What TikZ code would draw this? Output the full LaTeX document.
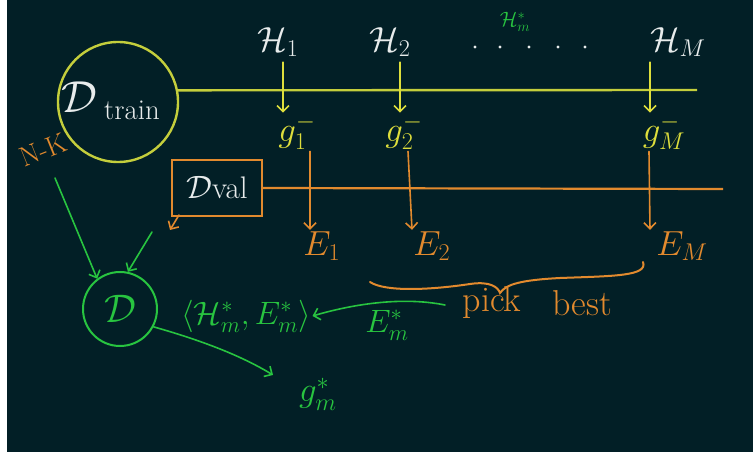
\documentclass[tikz,border=0pt]{standalone}
\usepackage{graphicx}
\usetikzlibrary{arrows.meta,calc}
\definecolor{bg}{RGB}{2,31,38}
\definecolor{chalkw}{RGB}{232,236,236}
\definecolor{yel}{RGB}{222,222,60}
\definecolor{ylg}{RGB}{196,206,60}
\definecolor{org}{RGB}{226,138,46}
\definecolor{grn}{RGB}{40,196,64}
\begin{document}
\begin{tikzpicture}[x=1pt,y=-1pt,
  every node/.style={inner sep=1pt},
  big/.style={font=\fontsize{24}{26}\selectfont,scale=1.4},
  mid/.style={font=\fontsize{24}{26}\selectfont,scale=1.3},
  small/.style={font=\fontsize{20}{22}\selectfont},
  wlab/.style={big,text=chalkw},
  ylab/.style={big,text=yel},
  olab/.style={big,text=org},
  glab/.style={mid,text=grn},
  tip/.style={-{Straight Barb[length=6pt,width=12pt]}},
  yarr/.style={tip,draw=yel,line width=1.6pt,line cap=round},
  oarr/.style={tip,draw=org,line width=1.6pt,line cap=round},
  garr/.style={tip,draw=grn,line width=1.6pt,line cap=round},
  yline/.style={draw=ylg,line width=2.4pt},
  oline/.style={draw=org,line width=2.2pt}
]
\useasboundingbox (0,0) rectangle (753,454);
\fill[white] (0,0) rectangle (753,454);
\fill[bg] (7,0) rectangle (753,452);

% D_train circle
\node[circle,draw=ylg,line width=2.4pt,minimum size=120pt] (train) at (118,102) {};
\node[text=chalkw,font=\fontsize{24}{26}\selectfont,scale=1.8] (dtr) at (79,97) {$\mathcal{D}$};
\node[text=chalkw,font=\fontsize{24}{26}\selectfont,scale=1.2] (trn) at (132,110) {train};
\coordinate (yend) at (697,90);
\draw[yline] (train.11.5) -- (yend);

% hypotheses
\node[wlab] (H1) at (278,42) {$\mathcal{H}_1$};
\node[wlab] (H2) at (390,42) {$\mathcal{H}_2$};
\node[wlab] (HM) at (678,42) {$\mathcal{H}_M$};
\node[small,text=grn] (Hs) at (515,22) {$\mathcal{H}_m^*$};
\foreach \x/\n in {475/a,500/b,529/c,558/d,585/e}
  \fill[chalkw] (\x,47) circle (1.6pt) coordinate (dot\n);

% g's
\node[ylab] (g1) at (297,132) {$g_1^-$};
\node[ylab] (g2) at (404,132) {$g_2^-$};
\node[ylab] (gM) at (664,132) {$g_M^-$};
\draw[yarr] ([xshift=5pt,yshift=-4pt]H1.south) -- ([xshift=5pt]H1.south |- g1.north);
\draw[yarr] ([xshift=10pt,yshift=-4pt]H2.south) -- ([xshift=10pt]H2.south |- g2.north);
\draw[yarr] ([xshift=-28pt,yshift=-4pt]HM.south) -- ([xshift=-28pt]HM.south |- gM.north);

% D_val box
\node[draw=org,line width=2pt,minimum width=90pt,minimum height=56pt,text=chalkw,font=\fontsize{24}{26}\selectfont] (dval) at (217,188) {\scalebox{1.3}{$\mathcal{D}$val}};
\coordinate (oend) at (723,189);
\draw[oline] (dval.east) -- (oend);
\coordinate (dvout) at (170,230);
\draw[oarr] ([shift={(8,-2)}]dval.south west) -- (dvout);

% E's
\node[olab] (E1) at (322,246) {$E_1$};
\node[olab] (E2) at (432,246) {$E_2$};
\node[olab] (EM) at (682,246) {$E_M$};
\draw[oarr] ([xshift=13pt]g1.south) -- ([xshift=-12pt]E1.north);
\draw[oarr] ([xshift=4pt]g2.south) -- ([xshift=-20pt]E2.north);
\draw[oarr] ([xshift=-15pt]gM.south) -- ([xshift=-32pt]EM.north);

% N-K
\node[text=org,font=\fontsize{20}{22}\selectfont,scale=1.4,rotate=22] (nk) at (43,150) {N-K};

% brace
\draw[org,line width=2pt,line cap=round]
  (370,282) .. controls (385,292) and (430,290) .. (470,284)
  .. controls (490,281) and (498,287) .. (500,293)
  .. controls (506,284) and (522,280) .. (560,278)
  .. controls (615,276) and (648,276) .. (643,262);
\node[text=org,font=\fontsize{24}{26}\selectfont,scale=1.5] (pick) at (492,303) {pick};
\node[text=org,font=\fontsize{24}{26}\selectfont,scale=1.5] (best) at (582,303) {best};

% D circle (green)
\node[circle,draw=grn,line width=2pt,minimum size=74pt,text=grn,font=\fontsize{24}{26}\selectfont] (Dc) at (120,309) {\scalebox{1.6}{$\mathcal{D}$}};
\coordinate (in1) at (55,178);
\coordinate (in2) at (152,232);
\draw[garr] (in1) -- (Dc.127);
\draw[garr] (in2) -- (Dc.78);

% pair
\node[glab] (pair) at (246,316) {$\langle\mathcal{H}_m^*,E_m^*\rangle$};
\node[glab] (Es) at (387,325) {$E_m^*$};
\coordinate (cs) at (445,305);
\draw[garr] (cs) .. controls (400,296) and (350,305) .. (pair.east);

% g_m^*
\node[big,text=grn] (gm) at (318,394) {$g_m^*$};
\coordinate (gin) at (273,375);
\draw[garr] (Dc.-28) .. controls (200,340) and (240,355) .. (gin);
\end{tikzpicture}
\end{document}
